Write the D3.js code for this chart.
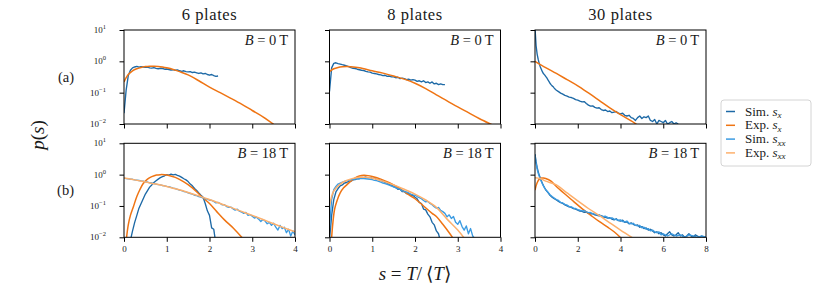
<!DOCTYPE html>
<html>
<head>
<meta charset="utf-8">
<script src="https://cdn.jsdelivr.net/npm/d3@7"></script>
<style>
  body { margin: 0; background: #fff; }
</style>
</head>
<body>
<svg id="fig" width="830" height="297"></svg>
<script>
// ---------- data ----------
const plates = ["6 plates", "8 plates", "30 plates"];
const fields = ["0", "18"];
const rowTags = ["(a)", "(b)"];
const xMax = [4, 4, 8];
const xTicks = [[0, 1, 2, 3, 4], [0, 1, 2, 3, 4], [0, 2, 4, 6, 8]];
const yTicks = [1e-2, 1e-1, 1e0, 1e1];
const yTickExp = ["\u22122", "\u22121", "0", "1"];
const legendLabels = [["Sim.", "x"], ["Exp.", "x"], ["Sim.", "xx"], ["Exp.", "xx"]];

const BIN = 0.05; // histogram bin width of the simulated curves

// (a) 6 plates, B = 0 T
const sim6a_sx = [0.022, 0.12, 0.35, 0.52, 0.62, 0.66, 0.69, 0.65, 0.68, 0.66, 0.64, 0.65, 0.62, 0.61, 0.63,
  0.60, 0.58, 0.60, 0.59, 0.56, 0.57, 0.55, 0.53, 0.54, 0.52, 0.53, 0.50, 0.48, 0.50, 0.47, 0.46, 0.47, 0.44,
  0.45, 0.43, 0.41, 0.43, 0.40, 0.41, 0.38, 0.36, 0.38, 0.35, 0.33, 0.34];
const exp6a_sx = [[0, 0.22], [0.05, 0.30], [0.1, 0.38], [0.2, 0.50], [0.3, 0.58], [0.4, 0.64], [0.5, 0.68],
  [0.6, 0.70], [0.7, 0.70], [0.8, 0.69], [0.9, 0.66], [1.0, 0.62], [1.15, 0.55], [1.3, 0.47], [1.5, 0.37],
  [1.75, 0.24], [2.0, 0.15], [2.25, 0.10], [2.5, 0.066], [2.75, 0.043], [3.0, 0.027], [3.25, 0.017], [3.5, 0.0098]];

// (a) 8 plates
const sim8a_sx = [0.11, 0.62, 0.86, 0.90, 0.85, 0.82, 0.78, 0.75, 0.72, 0.68, 0.63, 0.60, 0.59, 0.56, 0.54,
  0.52, 0.51, 0.48, 0.46, 0.45, 0.42, 0.41, 0.40, 0.38, 0.37, 0.35, 0.36, 0.33, 0.34, 0.32, 0.32, 0.30, 0.31,
  0.28, 0.29, 0.28, 0.26, 0.27, 0.25, 0.26, 0.25, 0.23, 0.24, 0.22, 0.24, 0.21, 0.22, 0.20, 0.22, 0.19, 0.20,
  0.18, 0.19, 0.18, 0.18];
const exp8a_sx = [[0, 0.47], [0.1, 0.58], [0.2, 0.64], [0.3, 0.67], [0.4, 0.68], [0.5, 0.67], [0.7, 0.62],
  [1.0, 0.50], [1.25, 0.42], [1.5, 0.34], [1.75, 0.27], [2.0, 0.20], [2.25, 0.135], [2.5, 0.085],
  [2.75, 0.055], [3.0, 0.035], [3.25, 0.023], [3.5, 0.015], [3.8, 0.0095]];

// (a) 30 plates
const sim30a_sx = [[0, 12], [0.05, 3.2], [0.1, 1.7], [0.15, 1.15], [0.2, 0.85], [0.25, 0.66], [0.3, 0.55],
  [0.35, 0.46], [0.4, 0.40], [0.45, 0.37], [0.5, 0.33], [0.55, 0.30], [0.6, 0.26], [0.65, 0.23], [0.7, 0.20],
  [0.75, 0.18], [0.8, 0.165], [0.85, 0.155], [0.9, 0.14], [0.95, 0.128], [1.0, 0.12], [1.1, 0.108],
  [1.2, 0.097], [1.3, 0.090], [1.4, 0.082], [1.5, 0.078], [1.6, 0.072], [1.7, 0.070], [1.8, 0.066],
  [1.9, 0.060], [2.0, 0.058], [2.1, 0.054], [2.2, 0.051], [2.3, 0.052], [2.4, 0.045], [2.5, 0.040],
  [2.6, 0.037], [2.7, 0.038], [2.8, 0.034], [2.9, 0.032], [3.0, 0.033], [3.1, 0.029], [3.2, 0.027],
  [3.3, 0.028], [3.4, 0.025], [3.5, 0.026], [3.6, 0.023], [3.7, 0.024], [3.8, 0.025], [3.9, 0.022],
  [4.0, 0.021], [4.1, 0.022], [4.2, 0.019], [4.3, 0.018], [4.4, 0.019], [4.5, 0.016], [4.6, 0.015],
  [4.7, 0.013], [4.8, 0.016], [4.9, 0.018], [5.0, 0.015], [5.1, 0.017], [5.2, 0.016], [5.3, 0.018],
  [5.4, 0.013], [5.5, 0.012], [5.6, 0.014], [5.7, 0.010], [5.8, 0.013], [5.9, 0.012], [6.0, 0.011],
  [6.1, 0.013], [6.2, 0.010], [6.3, 0.011], [6.4, 0.012], [6.5, 0.010], [6.6, 0.011], [6.7, 0.010]];
const exp30a_sx = [[0, 1.0], [0.5, 0.63], [1.0, 0.41], [1.5, 0.26], [2.0, 0.165], [2.5, 0.098], [3.0, 0.057],
  [3.5, 0.033], [4.0, 0.020], [4.5, 0.0125], [4.75, 0.0098]];

// (b) 6 plates, B = 18 T  (sim s_x starts at s = 0.15)
const sim6b_sx = [0.008, 0.016, 0.030, 0.050, 0.085, 0.12, 0.17, 0.24, 0.31, 0.40, 0.47, 0.56, 0.64, 0.72,
  0.80, 0.86, 0.92, 1.0, 0.97, 1.04, 0.98, 1.02, 0.95, 0.90, 0.82, 0.74, 0.68, 0.60, 0.50, 0.44, 0.36, 0.31,
  0.26, 0.22, 0.19, 0.12, 0.07, 0.05, 0.02, 0.018, 0.006];
const exp6b_sx = [[0.06, 0.01], [0.1, 0.025], [0.15, 0.05], [0.22, 0.095], [0.3, 0.2], [0.37, 0.33],
  [0.45, 0.52], [0.55, 0.72], [0.65, 0.86], [0.76, 0.97], [0.85, 1.0], [0.95, 0.99], [1.05, 0.94],
  [1.2, 0.82], [1.39, 0.60], [1.6, 0.38], [1.78, 0.22], [2.0, 0.12], [2.17, 0.066], [2.35, 0.036],
  [2.56, 0.0195], [2.76, 0.0098]];
const sim6b_sxx = [0.77, 0.75, 0.74, 0.72, 0.71, 0.68, 0.67, 0.65, 0.63, 0.62, 0.59, 0.58, 0.55, 0.54, 0.52,
  0.50, 0.48, 0.47, 0.45, 0.44, 0.42, 0.41, 0.39, 0.37, 0.36, 0.34, 0.32, 0.31, 0.29, 0.28, 0.26, 0.25, 0.24,
  0.22, 0.215, 0.20, 0.19, 0.185, 0.17, 0.165, 0.155, 0.15, 0.14, 0.125, 0.13, 0.12, 0.108, 0.11, 0.096,
  0.09, 0.092, 0.081, 0.074, 0.079, 0.068, 0.064, 0.058, 0.062, 0.050, 0.053, 0.047, 0.041, 0.044, 0.038,
  0.032, 0.037, 0.033, 0.027, 0.030, 0.024, 0.028, 0.021, 0.017, 0.024, 0.019, 0.021, 0.014, 0.018, 0.011,
  0.016, 0.012];
const exp6b_sxx = [[0, 0.78], [0.25, 0.68], [0.5, 0.58], [0.75, 0.50], [1.0, 0.42], [1.25, 0.34], [1.5, 0.27],
  [1.75, 0.21], [2.0, 0.16], [2.25, 0.12], [2.5, 0.09], [2.75, 0.067], [3.0, 0.050], [3.25, 0.037],
  [3.5, 0.027], [3.75, 0.020], [4.0, 0.015]];

// (b) 8 plates
const sim8b_sx = [0.008, 0.05, 0.16, 0.28, 0.36, 0.44, 0.47, 0.54, 0.56, 0.61, 0.62, 0.68, 0.69, 0.75, 0.74,
  0.81, 0.80, 0.84, 0.79, 0.82, 0.76, 0.77, 0.71, 0.70, 0.64, 0.62, 0.57, 0.54, 0.48, 0.47, 0.41, 0.39, 0.34,
  0.34, 0.29, 0.29, 0.25, 0.25, 0.22, 0.22, 0.19, 0.17, 0.13, 0.12, 0.08, 0.075, 0.055, 0.045, 0.03, 0.025,
  0.016, 0.013, 0.007];
const exp8b_sx = [[0.05, 0.01], [0.08, 0.03], [0.12, 0.08], [0.17, 0.14], [0.25, 0.26], [0.33, 0.38],
  [0.41, 0.48], [0.5, 0.62], [0.6, 0.78], [0.7, 0.90], [0.8, 0.95], [0.9, 0.93], [1.0, 0.87], [1.2, 0.72],
  [1.4, 0.55], [1.5, 0.47], [1.7, 0.32], [1.85, 0.23], [2.0, 0.17], [2.2, 0.10], [2.4, 0.058], [2.5, 0.046],
  [2.65, 0.026], [2.8, 0.014], [2.88, 0.0098]];
const sim8b_sxx = [0.02, 0.16, 0.33, 0.42, 0.50, 0.54, 0.58, 0.61, 0.64, 0.66, 0.69, 0.70, 0.72, 0.74, 0.75,
  0.76, 0.75, 0.74, 0.72, 0.71, 0.69, 0.66, 0.64, 0.61, 0.58, 0.54, 0.52, 0.49, 0.46, 0.43, 0.41, 0.38, 0.36,
  0.34, 0.31, 0.29, 0.28, 0.26, 0.24, 0.225, 0.22, 0.20, 0.185, 0.17, 0.15, 0.135, 0.14, 0.12, 0.11, 0.095,
  0.085, 0.09, 0.072, 0.066, 0.058, 0.045, 0.052, 0.040, 0.046, 0.030, 0.026, 0.034, 0.022, 0.017, 0.023,
  0.013, 0.019, 0.011, 0.009, 0.007];
const exp8b_sxx = [[0, 0.10], [0.05, 0.2], [0.1, 0.3], [0.25, 0.5], [0.4, 0.65], [0.55, 0.76], [0.7, 0.82],
  [0.85, 0.82], [1.0, 0.77], [1.25, 0.62], [1.5, 0.47], [1.75, 0.34], [2.0, 0.24], [2.25, 0.155], [2.5, 0.09],
  [2.75, 0.038], [3.0, 0.017], [3.14, 0.0098]];

// (b) 30 plates
const sim30b_sx = [[0, 4.5], [0.05, 2.6], [0.1, 1.7], [0.15, 1.25], [0.2, 0.95], [0.25, 0.78], [0.3, 0.62],
  [0.35, 0.52], [0.4, 0.44], [0.45, 0.38], [0.5, 0.33], [0.6, 0.27], [0.7, 0.22], [0.8, 0.19], [0.9, 0.17],
  [1.0, 0.155], [1.1, 0.14], [1.2, 0.128], [1.3, 0.12], [1.4, 0.108], [1.5, 0.10], [1.6, 0.093], [1.7, 0.090],
  [1.8, 0.082], [1.9, 0.079], [2.0, 0.074], [2.1, 0.069], [2.2, 0.067], [2.3, 0.063], [2.4, 0.064],
  [2.5, 0.058], [2.6, 0.056], [2.7, 0.057], [2.8, 0.052], [2.9, 0.050], [3.0, 0.048], [3.1, 0.049],
  [3.2, 0.044], [3.3, 0.043], [3.4, 0.041], [3.5, 0.042], [3.6, 0.038], [3.7, 0.036], [3.8, 0.039],
  [3.9, 0.034], [4.0, 0.033], [4.1, 0.035], [4.2, 0.030], [4.3, 0.031], [4.4, 0.027], [4.5, 0.029],
  [4.6, 0.026], [4.7, 0.024], [4.8, 0.025], [4.9, 0.021], [5.0, 0.022], [5.1, 0.019], [5.2, 0.020],
  [5.3, 0.017], [5.4, 0.018], [5.5, 0.016], [5.6, 0.014], [5.7, 0.015], [5.8, 0.013], [5.9, 0.014],
  [6.0, 0.012], [6.1, 0.011], [6.2, 0.013], [6.3, 0.015], [6.4, 0.012], [6.5, 0.011], [6.6, 0.012],
  [6.7, 0.014], [6.8, 0.011], [6.9, 0.012], [7.0, 0.010], [7.1, 0.011], [7.2, 0.013], [7.3, 0.011],
  [7.4, 0.010], [7.5, 0.012], [7.6, 0.011], [7.7, 0.010], [7.8, 0.011], [7.9, 0.010], [8.0, 0.010]];
const exp30b_sx = [[0, 0.32], [0.1, 0.55], [0.2, 0.72], [0.3, 0.78], [0.4, 0.78], [0.5, 0.75], [0.75, 0.62],
  [1.0, 0.42], [1.4, 0.24], [1.8, 0.14], [2.2, 0.082], [2.6, 0.051], [3.0, 0.032], [3.4, 0.021], [3.7, 0.015],
  [4.0, 0.0098]];
const sim30b_sxx = [[0, 4.0], [0.05, 2.3], [0.1, 1.5], [0.15, 1.1], [0.2, 0.88], [0.25, 0.72], [0.3, 0.60],
  [0.35, 0.50], [0.4, 0.43], [0.45, 0.37], [0.5, 0.33], [0.6, 0.28], [0.7, 0.23], [0.8, 0.20], [0.9, 0.18],
  [1.0, 0.16], [1.1, 0.15], [1.2, 0.13], [1.3, 0.125], [1.4, 0.112], [1.5, 0.106], [1.6, 0.095], [1.7, 0.094],
  [1.8, 0.085], [1.9, 0.083], [2.0, 0.077], [2.1, 0.073], [2.2, 0.070], [2.3, 0.071], [2.4, 0.065],
  [2.5, 0.061], [2.6, 0.062], [2.7, 0.057], [2.8, 0.055], [2.9, 0.052], [3.0, 0.053], [3.1, 0.048],
  [3.2, 0.046], [3.3, 0.047], [3.4, 0.043], [3.5, 0.040], [3.6, 0.042], [3.7, 0.038], [3.8, 0.037],
  [3.9, 0.035], [4.0, 0.036], [4.1, 0.032], [4.2, 0.031], [4.3, 0.033], [4.4, 0.028], [4.5, 0.027],
  [4.6, 0.028], [4.7, 0.024], [4.8, 0.023], [4.9, 0.024], [5.0, 0.020], [5.1, 0.021], [5.2, 0.018],
  [5.3, 0.019], [5.4, 0.016], [5.5, 0.017], [5.6, 0.015], [5.7, 0.014], [5.8, 0.015], [5.9, 0.012],
  [6.0, 0.013], [6.2, 0.011], [6.4, 0.013], [6.6, 0.011], [6.8, 0.012], [7.0, 0.010], [7.2, 0.012],
  [7.4, 0.011], [7.6, 0.010], [7.8, 0.011], [8.0, 0.010]];
const exp30b_sxx = [[0, 0.80], [0.25, 0.75], [0.5, 0.62], [1.0, 0.47], [1.5, 0.26], [2.0, 0.145], [2.5, 0.083],
  [3.0, 0.050], [3.5, 0.029], [4.0, 0.017], [4.55, 0.0098]];

// ---------- helpers ----------
const binned = (vals, s0 = 0) => vals.map((p, i) => [s0 + i * BIN, p]);

// which curves go in which panel: [row][col]
const panels = [
  [
    [["simX", binned(sim6a_sx)], ["expX", exp6a_sx]],
    [["simX", binned(sim8a_sx)], ["expX", exp8a_sx]],
    [["simX", sim30a_sx], ["expX", exp30a_sx]]
  ],
  [
    [["simX", binned(sim6b_sx, 0.15)], ["expX", exp6b_sx], ["simXX", binned(sim6b_sxx)], ["expXX", exp6b_sxx]],
    [["simX", binned(sim8b_sx)], ["expX", exp8b_sx], ["simXX", binned(sim8b_sxx)], ["expXX", exp8b_sxx]],
    [["simX", sim30b_sx], ["expX", exp30b_sx], ["simXX", sim30b_sxx], ["expXX", exp30b_sxx]]
  ]
];

const color = { simX: "#1d69a6", expX: "#ef7413", simXX: "#3b9be2", expXX: "#fdb06d" };
const strokeW = { simX: 1.35, expX: 1.5, simXX: 1.35, expXX: 1.5 };
const kinds = ["simX", "expX", "simXX", "expXX"];
const serif = '"Liberation Serif", "DejaVu Serif", serif';

// ---------- layout ----------
const svg = d3.select("#fig");
const colLeft = [124, 329.5, 535];
const rowTop = [30, 143.3];
const W = 171, H = 94;

const y = d3.scaleLog().domain([1e-2, 1e1]).range([H, 0]);

panels.forEach((row, r) => {
  row.forEach((series, c) => {
    const x = d3.scaleLinear().domain([0, xMax[c]]).range([0, W]);
    const g = svg.append("g").attr("transform", `translate(${colLeft[c]},${rowTop[r]})`);

    const clipId = `clip-${r}-${c}`;
    g.append("clipPath").attr("id", clipId)
      .append("rect").attr("width", W).attr("height", H);

    const simLine = d3.line().x(d => x(d[0])).y(d => y(d[1]));
    const expLine = d3.line().x(d => x(d[0])).y(d => y(d[1])).curve(d3.curveCatmullRom.alpha(0.5));

    const plot = g.append("g").attr("clip-path", `url(#${clipId})`);
    series.forEach(([kind, pts]) => {
      plot.append("path")
        .attr("d", kind.startsWith("sim") ? simLine(pts) : expLine(pts))
        .attr("fill", "none")
        .attr("stroke", color[kind])
        .attr("stroke-width", strokeW[kind])
        .attr("stroke-linejoin", "round");
    });

    // axes: ticks only, labels added by hand
    const xAxis = g.append("g").attr("transform", `translate(0,${H})`)
      .call(d3.axisBottom(x).tickValues(xTicks[c]).tickSize(4.5).tickSizeOuter(0)
        .tickFormat(r === 1 ? d3.format("d") : () => ""));
    xAxis.select(".domain").remove();
    xAxis.selectAll("line").attr("stroke", "#000").attr("stroke-width", 1);
    xAxis.selectAll("text").attr("font-size", 9).attr("y", 8).attr("fill", "#1a1a1a");

    const yAxis = g.append("g")
      .call(d3.axisLeft(y).tickValues(yTicks).tickSize(4.5).tickSizeOuter(0).tickFormat(() => ""));
    yAxis.select(".domain").remove();
    yAxis.selectAll("line").attr("stroke", "#000").attr("stroke-width", 1);

    if (c === 0) {
      yTicks.forEach((v, i) => {
        const t = g.append("text")
          .attr("x", -18).attr("y", y(v) + 3)
          .attr("text-anchor", "end").attr("font-size", 9);
        t.append("tspan").text("10");
        t.append("tspan").attr("dy", -4).attr("font-size", 6.5).text(yTickExp[i]);
      });
    }

    // frame
    g.append("rect").attr("width", W).attr("height", H)
      .attr("fill", "none").attr("stroke", "#000").attr("stroke-width", 1);

    // field label
    const b = g.append("text").attr("x", W - 7).attr("y", 15)
      .attr("text-anchor", "end").attr("font-size", 14.5);
    b.append("tspan").attr("font-style", "italic").text("B");
    b.append("tspan").text(` = ${fields[r]}\u2009T`);

    if (r === 0) {
      g.append("text").attr("x", W / 2).attr("y", -10)
        .attr("text-anchor", "middle").attr("font-size", 16.5).attr("letter-spacing", 0.6)
        .text(plates[c]);
    }
  });

  svg.append("text").attr("x", 74).attr("y", rowTop[r] + H / 2 + 5)
    .attr("text-anchor", "end").attr("font-size", 14.5).text(rowTags[r]);
});

// y label p(s)
const yl = svg.append("text").attr("transform", "translate(44,135) rotate(-90)")
  .attr("text-anchor", "middle").attr("font-size", 19);
yl.append("tspan").attr("font-style", "italic").text("p");
yl.append("tspan").text("(");
yl.append("tspan").attr("font-style", "italic").text("s");
yl.append("tspan").text(")");

// x label s = T / <T>
const xl = svg.append("text").attr("x", 415).attr("y", 280)
  .attr("text-anchor", "middle").attr("font-size", 19);
xl.append("tspan").attr("font-style", "italic").text("s");
xl.append("tspan").text(" = ");
xl.append("tspan").attr("font-style", "italic").text("T");
xl.append("tspan").text("/\u2009\u27e8");
xl.append("tspan").attr("font-style", "italic").text("T");
xl.append("tspan").text("\u27e9");

// legend
const lg = svg.append("g").attr("transform", "translate(721,100)");
lg.append("rect").attr("width", 90).attr("height", 66).attr("rx", 3)
  .attr("fill", "#fff").attr("stroke", "#d4d4d4").attr("stroke-width", 1);
kinds.forEach((k, i) => {
  const cy = 11.5 + i * 13.8;
  lg.append("line").attr("x1", 5).attr("x2", 14).attr("y1", cy).attr("y2", cy)
    .attr("stroke", color[k]).attr("stroke-width", 1.5);
  const t = lg.append("text").attr("x", 24).attr("y", cy + 4).attr("font-size", 13);
  t.append("tspan").text(legendLabels[i][0] + " ");
  t.append("tspan").attr("font-style", "italic").text("s");
  t.append("tspan").attr("font-style", "italic").attr("font-size", 9).attr("dy", 2.5).text(legendLabels[i][1]);
});

svg.selectAll("text").style("font-family", serif).style("fill", "#1a1a1a");
</script>
</body>
</html>
